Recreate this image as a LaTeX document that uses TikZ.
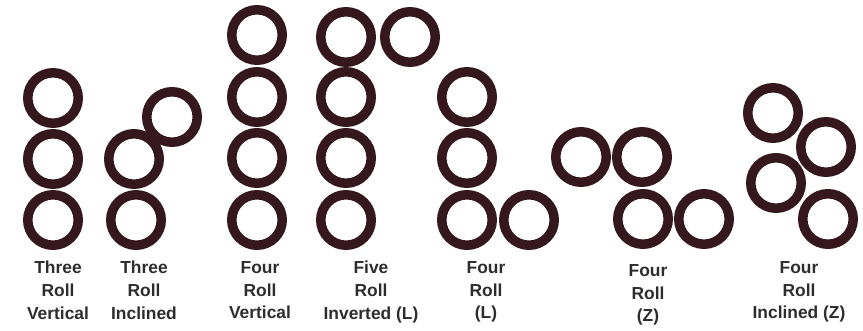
\documentclass[tikz,border=0pt]{standalone}
\usepackage{fontspec}
\setmainfont{Liberation Sans}
\usetikzlibrary{positioning}
\definecolor{rollcol}{RGB}{52,24,30}
\definecolor{labelcol}{RGB}{45,45,45}
\tikzset{
  roll/.style={
    draw=rollcol,
    circle,
    line width=0.19cm,
    minimum size=1.01cm,
    inner sep=0pt
  },
  caption/.style={
    align=center,
    anchor=north,
    inner sep=0pt,
    text=labelcol,
    font=\bfseries\fontsize{9.9}{13}\selectfont
  }
}
\begin{document}
\begin{tikzpicture}[x=0.02cm, y=-0.02cm]
\useasboundingbox (0,0) rectangle (863,331);

% --- Three roll vertical ---
\node[roll] (tva) at (53,98)  {};
\node[roll] (tvb) at (53,159) {};
\node[roll] (tvc) at (53,220) {};

% --- Three roll inclined ---
\node[roll] (tia) at (172,117) {};
\node[roll] (tib) at (134,159) {};
\node[roll] (tic) at (136,220) {};

% --- Four roll vertical ---
\node[roll] (fva) at (257,35)  {};
\node[roll] (fvb) at (257,97)  {};
\node[roll] (fvc) at (257,158) {};
\node[roll] (fvd) at (257,220) {};

% --- Five roll inverted (L) ---
\node[roll] (fia) at (346,37)  {};
\node[roll] (fib) at (410,37)  {};
\node[roll] (fic) at (346,97)  {};
\node[roll] (fid) at (346,158) {};
\node[roll] (fie) at (346,220) {};

% --- Four roll (L) ---
\node[roll] (fla) at (467,97)  {};
\node[roll] (flb) at (467,158) {};
\node[roll] (flc) at (467,220) {};
\node[roll] (fld) at (529,220) {};

% --- Four roll (Z) ---
\node[roll] (fza) at (581,157) {};
\node[roll] (fzb) at (642,157) {};
\node[roll] (fzc) at (643,219) {};
\node[roll] (fzd) at (704,219) {};

% --- Four roll inclined (Z) ---
\node[roll] (fiza) at (773,113) {};
\node[roll] (fizb) at (826,147) {};
\node[roll] (fizc) at (776,183) {};
\node[roll] (fizd) at (828,219) {};

% --- Captions ---
\node[caption] (ltv)  at (58,261)  {Three\\Roll\\Vertical};
\node[caption] (lti)  at (144,261) {Three\\Roll\\Inclined};
\node[caption] (lfv)  at (260,261) {Four\\Roll\\Vertical};
\node[caption] (lfi)  at (371,261) {Five\\Roll\\Inverted (L)};
\node[caption] (lfl)  at (486,261) {Four\\Roll\\(L)};
\node[caption] (lfz)  at (648,264) {Four\\Roll\\(Z)};
\node[caption] (lfiz) at (799,261) {Four\\Roll\\Inclined (Z)};

\end{tikzpicture}
\end{document}
